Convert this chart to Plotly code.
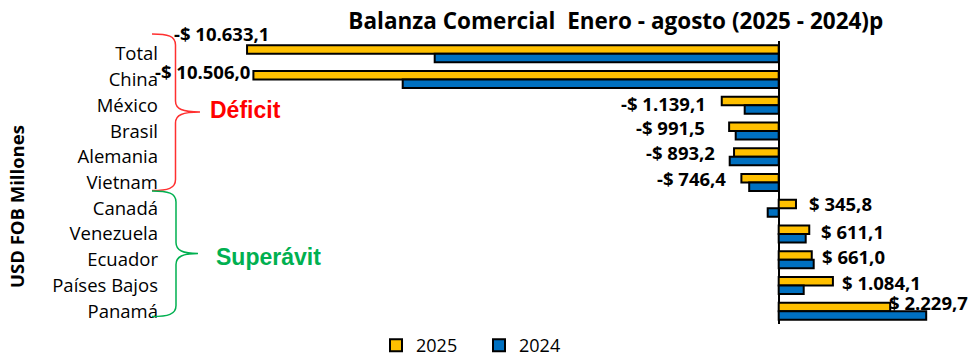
import plotly.graph_objects as go

# ---------------- data ----------------
categories = ["Total", "China", "México", "Brasil", "Alemania", "Vietnam",
              "Canadá", "Venezuela", "Ecuador", "Países Bajos", "Panamá"]
values_2025 = [-10633.1, -10506.0, -1139.1, -991.5, -893.2, -746.4,
               345.8, 611.1, 661.0, 1084.1, 2229.7]
values_2024 = [-6880, -7520, -680, -860, -980, -590,
               -220, 540, 700, 500, 2950]
series_names = ["2025", "2024"]

# label offsets (px) relative to the 2025 bar end / category centre
label_dx = [24, -1, -14, -22, -17, -13, 11, 10, 8, 7, -3]
label_dy = [20, 8, 2, 4, 4, 4, 5, 2, 3, 3, 9]


def fmt(v):
    s = f"{abs(v):,.1f}".replace(",", "X").replace(".", ",").replace("X", ".")
    return ("-$ " if v < 0 else "$ ") + s


# ---------------- layout constants ----------------
# the page body adds an 8px margin; the figure is sized to fit the window
OFF = 8
W, H = 980 - 2 * OFF, 364 - 2 * OFF
ML, MT, MB = 157, 33, 32
PW = 805
MR = W - ML - PW
PH = H - MT - MB


def px(x):  # screen x -> paper
    return (x - OFF - ML) / PW


def py(y):  # screen y -> paper
    return (H - MB - (y - OFF)) / PH


YELLOW = "#FFC000"
BLUE = "#0070C0"
FONT = "Open Sans"

fig = go.Figure()
fig.add_trace(go.Bar(y=categories, x=values_2025, name=series_names[0], orientation="h",
                     marker=dict(color=YELLOW, line=dict(color="black", width=2))))
fig.add_trace(go.Bar(y=categories, x=values_2024, name=series_names[1], orientation="h",
                     marker=dict(color=BLUE, line=dict(color="black", width=2))))

annotations = []
for c, v, dx, dy in zip(categories, values_2025, label_dx, label_dy):
    annotations.append(dict(
        x=v, y=c, xref="x", yref="y", text=fmt(v), showarrow=False,
        xanchor="right" if v < 0 else "left", yanchor="middle",
        xshift=dx, yshift=dy,
        font=dict(family=FONT, size=18.5, color="black", weight="bold")))

# Déficit / Superávit labels
annotations.append(dict(x=px(208), y=py(110), xref="paper", yref="paper", text="Déficit",
                        showarrow=False, xanchor="left", yanchor="middle",
                        font=dict(family="Liberation Sans", size=23, color="#FF0000", weight="bold")))
annotations.append(dict(x=px(214), y=py(257), xref="paper", yref="paper", text="Superávit",
                        showarrow=False, xanchor="left", yanchor="middle",
                        font=dict(family="Liberation Sans", size=23, color="#00B050", weight="bold")))
# axis title
annotations.append(dict(x=px(17), y=py(207), xref="paper", yref="paper", text="USD FOB Millones",
                        showarrow=False, textangle=-90, xanchor="center", yanchor="middle",
                        font=dict(family=FONT, size=18.5, color="black", weight="bold")))


def brace(x_end, x_mid, x_tip, y_top, y_mid, y_bot):
    pts = [(x_end, y_top), (x_end + 16, y_top), (x_mid, y_top + 2), (x_mid, y_top + 11),
           (x_mid, y_mid - 11), (x_mid, y_mid - 3), (x_mid + 7, y_mid), (x_tip, y_mid),
           (x_mid + 7, y_mid), (x_mid, y_mid + 3), (x_mid, y_mid + 11),
           (x_mid, y_bot - 11), (x_mid, y_bot - 2), (x_end + 16, y_bot), (x_end, y_bot)]
    p = [f"{px(x):.5f},{py(y):.5f}" for x, y in pts]
    return (f"M {p[0]} C {p[1]} {p[2]} {p[3]} L {p[4]} C {p[5]} {p[6]} {p[7]} "
            f"C {p[8]} {p[9]} {p[10]} L {p[11]} C {p[12]} {p[13]} {p[14]}")


shapes = [
    dict(type="path", xref="paper", yref="paper", path=brace(152, 175.5, 200, 34, 112, 190.5),
         line=dict(color="#FF3030", width=1.5)),
    dict(type="path", xref="paper", yref="paper", path=brace(152, 176, 198, 191, 253.5, 316.5),
         line=dict(color="#00B050", width=1.5)),
]

x_zero_frac = px(778.7)
span = PW * 20.0
n = len(categories)
fig.update_layout(
    width=W, height=H,
    margin=dict(l=ML, r=MR, t=MT, b=MB, autoexpand=False),
    paper_bgcolor="white", plot_bgcolor="white",
    barmode="group", bargap=0.34, bargroupgap=0,
    title=dict(text="Balanza Comercial\u00a0 Enero - agosto (2025 - 2024)p",
               x=(615.8 - OFF) / W, xanchor="center", xref="container",
               y=1 - (21.5 - OFF) / H, yanchor="middle", yref="container",
               font=dict(family=FONT, size=22.5, color="black", weight="bold")),
    xaxis=dict(range=[-span * x_zero_frac, span * (1 - x_zero_frac)],
               showticklabels=False, showgrid=False, ticks="", showline=False,
               zeroline=True, zerolinecolor="black", zerolinewidth=2, fixedrange=True),
    yaxis=dict(type="category", range=[n - 0.5, -0.5], autorange=False,
               showgrid=False, ticks="",
               showline=False, zeroline=False, ticklabelstandoff=6,
               tickfont=dict(family=FONT, size=18.5, color="black")),
    legend=dict(orientation="h", x=px(376), xanchor="left", y=py(345.5), yanchor="middle",
                xref="paper", yref="paper", traceorder="normal",
                entrywidth=58, entrywidthmode="pixels",
                font=dict(family=FONT, size=18, color="black")),
    showlegend=True,
    annotations=annotations,
    shapes=shapes,
)

fig.write_html("out.html")
